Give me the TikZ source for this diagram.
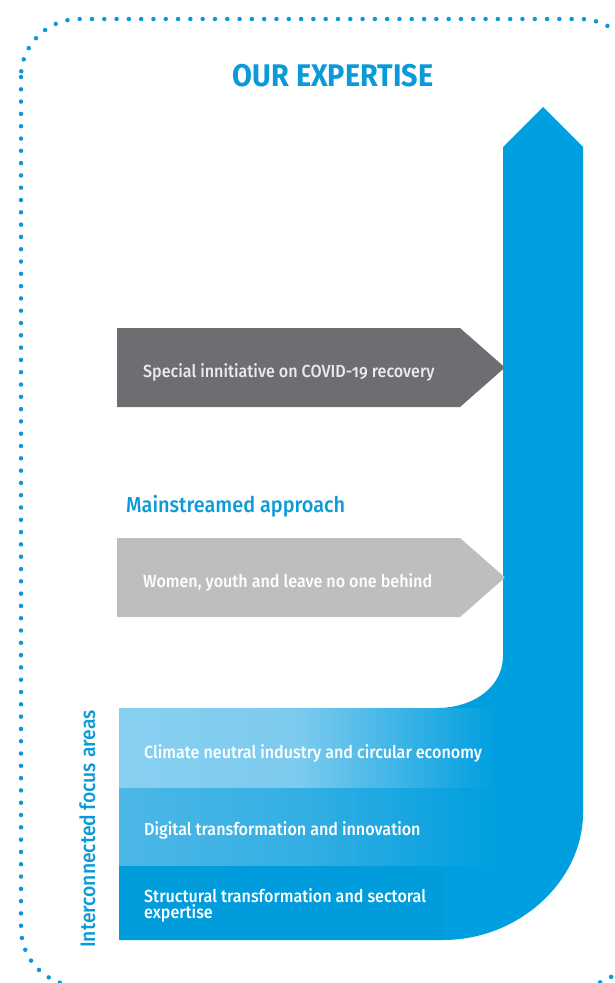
\documentclass[tikz,border=0pt]{standalone}
\usepackage{fontspec}
\setmainfont{Fira Sans}[FakeStretch=0.92, Numbers=OldStyle]
\newfontfamily\medfont{Fira Sans Medium}[FakeStretch=0.92, Numbers=OldStyle]
\definecolor{arrowblue}{HTML}{009FDF}
\definecolor{titleblue}{HTML}{0A9AD8}
\definecolor{bandA}{HTML}{88D0F0}
\definecolor{bandAr}{HTML}{7CCAEE}
\definecolor{bandB}{HTML}{4CB7E6}
\definecolor{bandBr}{HTML}{34AFE3}
\definecolor{bandC}{HTML}{009CDB}
\definecolor{darkgrey}{HTML}{6D6E71}
\definecolor{lightgrey}{HTML}{BCBEC0}
\tikzset{
  dotframe/.style={draw=titleblue, line width=4.5pt, line cap=round, dash pattern=on 0pt off 12.3pt},
  bandtext/.style={anchor=base west, inner sep=0pt, text=white, font=\medfont\fontsize{17.5}{17.5}\selectfont, align=left},
}
\begin{document}
\begin{tikzpicture}[x=1pt,y=1pt,yscale=-1]
			\useasboundingbox (0,0) rectangle (614,983);
			
			%Shape: Rounded frame [id:frame]
			\draw [dotframe, rounded corners=58] (21,19) rectangle (638,986) ;
			
			%Shape: Blue arrow [id:bluearrow]
			\fill [arrowblue] (543,107) -- (583,147) -- (583,813) .. controls (583,880) and (520,940) .. (443,940) -- (119,940) -- (119,708) -- (437,708) .. controls (470,708) and (503,690) .. (503,655) -- (503,147) -- cycle ;
			%Shape: Bands [id:bands]
			\fill [bandC] (119,865) rectangle (445,940) ;
			\shade [left color=bandB, right color=bandBr] (119,787) rectangle (300,865) ;
			\shade [left color=bandBr, right color=arrowblue] (299.5,787) rectangle (495,865) ;
			\shade [left color=bandA, right color=bandAr] (119,708) rectangle (300,787) ;
			\shade [left color=bandAr, right color=arrowblue] (299.5,708) rectangle (495,787) ;
			
			%Shape: Grey arrows [id:greyarrows]
			\fill [darkgrey] (117,328) -- (460,328) -- (505,367.5) -- (460,407) -- (117,407) -- cycle ;
			\fill [lightgrey] (117,538) -- (460,538) -- (505,577.5) -- (460,617) -- (117,617) -- cycle ;
			
			% Text Node
			\draw (333,86) node (title) [anchor=base, inner sep=0pt, text=titleblue, font=\bfseries\fontsize{31.3}{31.3}\selectfont] {OUR EXPERTISE};
			% Text Node
			\draw (143,377) node (covid) [bandtext, text=white!92!black] {Special innitiative on COVID-19 recovery};
			% Text Node
			\draw (126,512) node (mainstream) [anchor=base west, inner sep=0pt, text=titleblue, font=\medfont\fontsize{21.6}{21.6}\selectfont] {Mainstreamed approach};
			% Text Node
			\draw (143,587) node (women) [bandtext] {Women, youth and leave no one behind};
			% Text Node
			\draw (144,758) node (climate) [bandtext] {Climate neutral industry and circular economy};
			% Text Node
			\draw (144,835) node (digital) [bandtext] {Digital transformation and innovation};
			% Text Node
			\draw (144,902) node (structural) [bandtext] {Structural transformation and sectoral};
			% Text Node
			\draw (144,918) node (expertise) [bandtext] {expertise};
			% Text Node
			\draw (95,948) node (focus) [anchor=base west, inner sep=0pt, rotate=90, text=titleblue, font=\medfont\fontsize{21}{21}\selectfont] {Interconnected focus areas};
			
		\end{tikzpicture}
\end{document}
